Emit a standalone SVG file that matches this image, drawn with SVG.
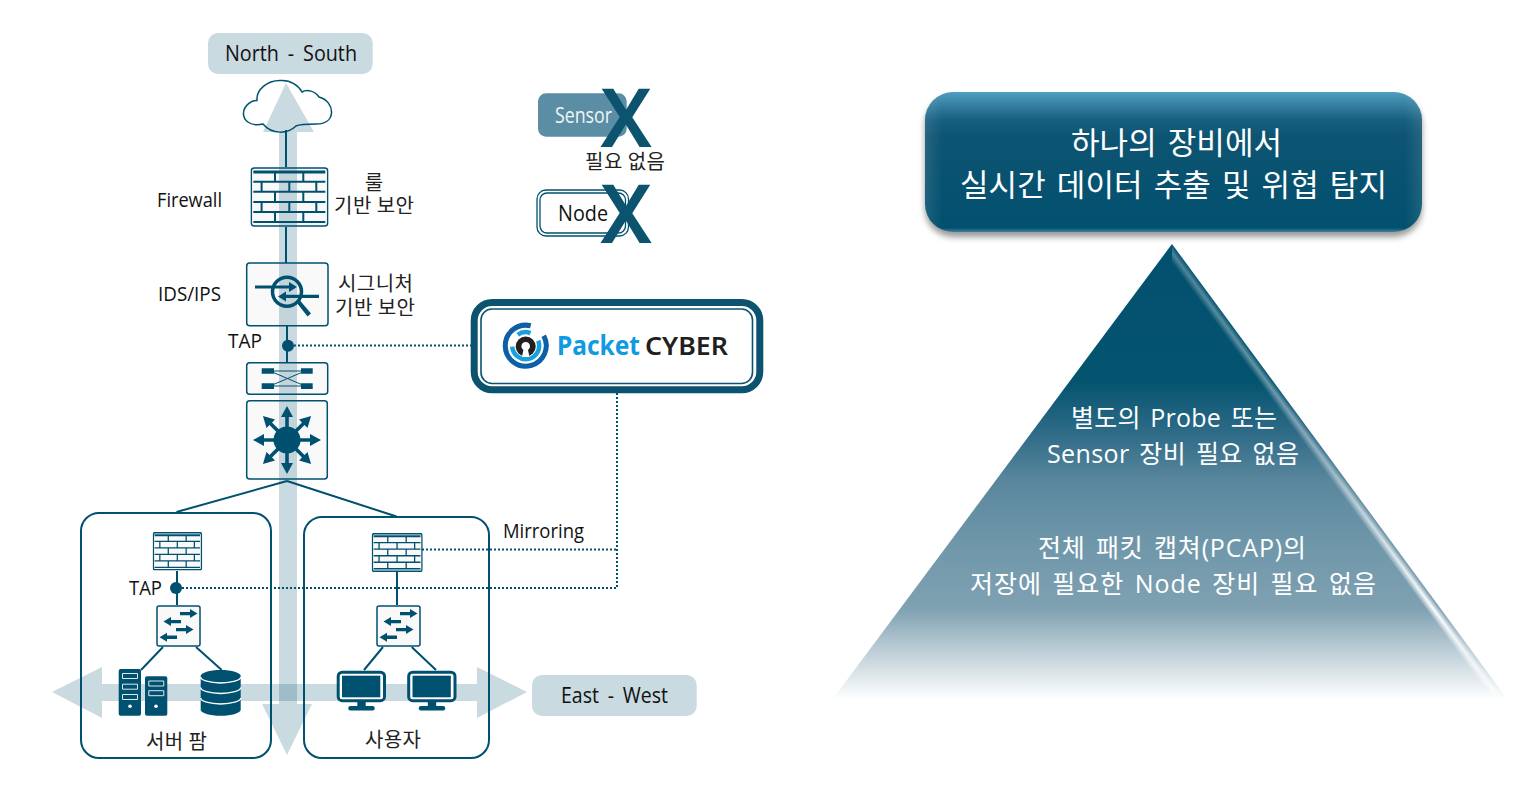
<svg xmlns="http://www.w3.org/2000/svg" xmlns:xlink="http://www.w3.org/1999/xlink" width="1525" height="807" viewBox="0 0 1525 807">
<style>
text{font-family:"Open Sans","Noto Sans CJK KR",sans-serif;fill:#111;font-size:19px}
.ko{font-family:"Noto Sans CJK KR",sans-serif;font-size:20px;fill:#222}
.w{fill:#fff;font-weight:400}
.big{font-size:31px;word-spacing:4px;fill:#fff}
.mid{font-size:25px;word-spacing:3px}
.lbl{font-size:21px;word-spacing:4px}
.flow{fill:#00506f;fill-opacity:.21}
.ln{stroke:#00506f;stroke-width:2;fill:none}
.dot{stroke:#00506f;stroke-width:2;stroke-dasharray:2 2;fill:none}
.box{fill:#000;fill-opacity:.025;stroke:#00506f;stroke-width:1.5}
.grp{fill:none;stroke:#00506f;stroke-width:2}
.d{fill:#00506f}
.cap{fill:#c9dae1}
.x{fill:#0c5370;font-family:"Noto Sans",sans-serif;font-weight:600;font-size:81px}
</style>
<defs>
<linearGradient id="gTop" x1="0" y1="0" x2="0" y2="1">
<stop offset="0" stop-color="#4d9fc4"/><stop offset=".08" stop-color="#3a83a4"/><stop offset=".2" stop-color="#165f7f"/><stop offset=".32" stop-color="#0d5472"/><stop offset=".97" stop-color="#02506f"/><stop offset="1" stop-color="#3f7f9c"/>
</linearGradient>
<linearGradient id="gSide" x1="0" y1="0" x2="1" y2="0">
<stop offset="0" stop-color="#fff" stop-opacity=".1"/><stop offset=".035" stop-color="#fff" stop-opacity="0"/><stop offset=".965" stop-color="#fff" stop-opacity="0"/><stop offset="1" stop-color="#fff" stop-opacity=".1"/>
</linearGradient>
<linearGradient id="gPyr" gradientUnits="userSpaceOnUse" x1="0" y1="244" x2="0" y2="700">
<stop offset="0" stop-color="#02506f"/><stop offset=".3" stop-color="#04536f"/><stop offset=".42" stop-color="#306c88"/><stop offset=".52" stop-color="#5a879d"/><stop offset=".66" stop-color="#6f97aa"/><stop offset=".8" stop-color="#7fa1b2"/><stop offset=".88" stop-color="#b5c8d2"/><stop offset="1" stop-color="#fff"/>
</linearGradient>
<linearGradient id="gBev" gradientUnits="userSpaceOnUse" x1="1172" y1="244" x2="1163" y2="250.600">
<stop offset="0" stop-color="#fff" stop-opacity=".05"/><stop offset=".45" stop-color="#fff" stop-opacity="1"/><stop offset="1" stop-color="#fff" stop-opacity="0"/>
</linearGradient>
<linearGradient id="gFade" gradientUnits="userSpaceOnUse" x1="0" y1="244" x2="0" y2="700">
<stop offset="0" stop-color="#484848"/><stop offset=".5" stop-color="#777"/><stop offset=".8" stop-color="#fff"/><stop offset=".97" stop-color="#aaa"/><stop offset="1" stop-color="#000"/>
</linearGradient>
<mask id="mFade" maskUnits="userSpaceOnUse" x="1150" y="240" width="370" height="465"><rect x="1150" y="240" width="370" height="465" fill="url(#gFade)"/></mask>
<filter id="sh" x="-5%" y="-10%" width="110%" height="125%"><feGaussianBlur stdDeviation="3"/></filter>
<symbol id="fw" viewBox="0 0 78.4 60" preserveAspectRatio="none">
<rect class="box" x="1" y="1" width="76.4" height="58" rx="3" vector-effect="non-scaling-stroke"/>
<path class="ln" d="M3 14.700H75M3 24.700H75M3 35H75M3 45H75M3 55H75M24.700 5V14.700M53 5V14.700M11.300 14.700V24.700M39 14.700V24.700M66 14.700V24.700M24.700 24.700V35M53 24.700V35M11.300 35V45M39 35V45M66 35V45M24.700 45V55M53 45V55"/>
<path class="ln" d="M3 5H75" style="stroke-width:3"/>
</symbol>
<path id="ar" class="d" d="M0-1.700H10V-4.500L17.500 0L10 4.500V1.700H0Z"/>
<path id="ar3" class="d" d="M0-1.800H23V-6L34 0L23 6V1.800H0Z"/>
<g id="sw">
<rect class="box" x=".7" y=".7" width="43" height="40" rx="2"/>
<use href="#ar" x="23.700" y="8.300"/>
<use href="#ar" transform="translate(24.700 16.300) rotate(180)"/>
<use href="#ar" x="19.700" y="24.300"/>
<use href="#ar" transform="translate(20.700 32) rotate(180)"/>
</g>
<g id="mon">
<rect x="1.500" y="1.500" width="46.300" height="28.500" rx="4" fill="#fff" stroke="#00506f" stroke-width="3"/>
<rect class="d" x="5.300" y="5" width="38.300" height="21.600"/>
<rect class="d" x="20.600" y="31" width="8.400" height="5.500"/>
<rect class="d" x="11.600" y="35.400" width="26.400" height="4.300" rx="2"/>
</g>
</defs>

<g id="flows">
<polygon class="flow" points="286,83 314,132 297,132 297,704 312,704 287,755 262,704 279,704 279,132 263,132"/>
<polygon class="flow" points="52,692 102,667 102,684 477,684 477,667 527,692 477,718 477,701 102,701 102,718"/>
</g>

<g id="connectors">
<path class="ln" d="M286 130V167M286 227V263M287 326V362M287 481L176.500 512M287 481L396.500 516.500M177 571V605M397 572V605M163 647L141 670M196 647L221.700 670M383 647L364 670M411.700 647L436 670"/>
<path class="dot" d="M294 345.500H471M182 588H617M422 549.500H617M617 393V588"/>
</g>

<g id="north-south"><rect class="cap" x="208" y="33" width="164.700" height="41" rx="10"/><text class="lbl" x="225" y="61" textLength="132" lengthAdjust="spacingAndGlyphs">North - South</text></g>
<g id="east-west"><rect class="cap" x="532" y="675" width="164.700" height="41" rx="10"/><text class="lbl" x="561" y="703" textLength="107" lengthAdjust="spacingAndGlyphs">East - West</text></g>

<g id="cloud"><path d="M263 124C250 127 243 120 243.500 113C244 105 252 100 257 100.500C256 90 267 80 281 80.500C291 80 299 86 302 92C307 89 315 91 319 97C327 99 332 106 331.500 113C331 120 325 124 316 124C308 124 300 124 296 126C288 134 272 135 263 124Z" fill="none" stroke="#00506f" stroke-width="1.500"/></g>

<g id="firewall"><use href="#fw" x="250.300" y="167" width="78.400" height="60"/>
<text x="157" y="207" textLength="65" lengthAdjust="spacingAndGlyphs" style="font-size:20px">Firewall</text>
<text class="ko" x="374" y="190" text-anchor="middle">룰</text>
<text class="ko" x="334" y="213" textLength="80">기반 보안</text></g>

<g id="ids-ips">
<rect class="box" x="246.700" y="263" width="81.300" height="62.700" rx="3"/>
<circle cx="287" cy="291.700" r="14.500" fill="none" stroke="#00506f" stroke-width="3.500"/>
<path class="d" d="M255 285.500H289V282L297 287L289 292V288.500H255ZM319 294.700H286V291.500L278 296.500L286 301.500V298H319ZM297 303L300 300.500L311 313.500L307.500 316.500Z"/>
<text x="158" y="301" textLength="63" lengthAdjust="spacingAndGlyphs" style="font-size:20px">IDS/IPS</text>
<text class="ko" x="338" y="291" textLength="75">시그니처</text>
<text class="ko" x="335" y="315" textLength="80">기반 보안</text></g>

<g id="tap-top"><circle class="d" cx="288" cy="345.700" r="6"/><text x="228" y="348" textLength="34" lengthAdjust="spacingAndGlyphs" style="font-size:20px">TAP</text></g>

<g id="patch">
<rect class="box" x="246.700" y="362.700" width="81" height="31.600" rx="3"/>
<path d="M262 371H312M262 386H312M270 371L305 386M305 371L270 386" stroke="#00506f" stroke-width="1" fill="none"/>
<path class="d" d="M261.700 368.300h12.300v5.400h-12.300zM301 368.300h11.700v5.400h-11.700zM261.700 383.300h12.300v5.700h-12.300zM301 383.300h11.700v5.700h-11.700z"/>
</g>

<g id="l3-switch">
<rect class="box" x="246.700" y="400.700" width="80.600" height="78.300" rx="3"/>
<circle class="d" cx="287" cy="440" r="13.500"/>
<use href="#ar3" transform="translate(287 440)"/><use href="#ar3" transform="translate(287 440) rotate(45)"/><use href="#ar3" transform="translate(287 440) rotate(90)"/><use href="#ar3" transform="translate(287 440) rotate(135)"/><use href="#ar3" transform="translate(287 440) rotate(180)"/><use href="#ar3" transform="translate(287 440) rotate(225)"/><use href="#ar3" transform="translate(287 440) rotate(270)"/><use href="#ar3" transform="translate(287 440) rotate(315)"/>
</g>

<g id="server-farm">
<rect class="grp" x="81" y="513" width="190" height="245" rx="18"/>
<use href="#fw" x="152.700" y="532" width="49.500" height="38.500"/>
<circle class="d" cx="176" cy="588" r="6"/>
<text x="129" y="595" textLength="33" lengthAdjust="spacingAndGlyphs" style="font-size:20px">TAP</text>
<use href="#sw" x="156.300" y="605.300"/>
<rect class="d" x="118.700" y="669" width="22.300" height="46.700" rx="2"/>
<rect class="d" x="145" y="676.300" width="22.300" height="39.400" rx="2"/>
<path d="M122.500 673.500h15v5h-15zM122.500 684.200h15v5h-15zM122.500 694.500h15v5h-15zM148.800 681h15v5h-15zM148.800 690.700h15v5h-15z" fill="none" stroke="#dfe8ec" stroke-width="1"/>
<circle cx="130" cy="706.300" r="1.800" fill="#fff"/><circle cx="156" cy="706.300" r="1.800" fill="#fff"/>
<path class="d" d="M200.700 676v33.700c0 3.300 9 6 20 6s20-2.700 20-6V676c0-3.300-9-6-20-6s-20 2.700-20 6Z"/>
<path d="M200.700 677c0 3.300 9 6 20 6s20-2.700 20-6M200.700 687.500c0 3.300 9 6 20 6s20-2.700 20-6M200.700 698c0 3.300 9 6 20 6s20-2.700 20-6" fill="none" stroke="#fff" stroke-width="1.300"/>
<text class="ko" x="146" y="749" textLength="61">서버 팜</text>
</g>

<g id="users">
<rect class="grp" x="304" y="517" width="185" height="241" rx="18"/>
<use href="#fw" x="371.700" y="533" width="51" height="39"/>
<use href="#sw" x="376.300" y="605.300"/>
<use href="#mon" x="336.700" y="670.700"/>
<use href="#mon" x="407.200" y="670.700"/>
<text class="ko" x="365" y="747" textLength="56">사용자</text>
</g>

<g id="mirroring"><text x="503" y="538" textLength="81" lengthAdjust="spacingAndGlyphs" style="font-size:20px">Mirroring</text></g>

<g id="sensor">
<rect x="538" y="93.300" width="88.700" height="43.400" rx="8" fill="#5b8ea4"/>
<text x="555" y="123" textLength="57" lengthAdjust="spacingAndGlyphs" style="fill:#f0f5f7;font-size:21px">Sensor</text>
<text class="x" x="626" y="146.700" text-anchor="middle">X</text>
<text class="ko" x="585" y="169" textLength="80">필요 없음</text>
</g>
<g id="node">
<rect x="537" y="190" width="91.500" height="46" rx="9" fill="#fff" stroke="#00506f" stroke-width="1.300"/>
<rect x="540" y="193" width="85.500" height="40" rx="7" fill="none" stroke="#00506f" stroke-width="1.300"/>
<text x="558" y="221" textLength="50" lengthAdjust="spacingAndGlyphs" style="font-size:22px">Node</text>
<text class="x" x="626" y="243" text-anchor="middle">X</text>
</g>

<g id="packet-cyber">
<rect x="474.200" y="302.500" width="285.600" height="87.300" rx="18" fill="#fff" stroke="#0c5370" stroke-width="7"/>
<rect x="481" y="309" width="271.500" height="74.500" rx="11" fill="none" stroke="#0c5370" stroke-width="1.600"/>
<path d="M530.700 325.800A20.500 20.500 0 1 0 543.700 335.800" fill="none" stroke="#0f5ea8" stroke-width="5"/>
<path d="M530.500 333.100A13.500 13.500 0 0 0 517.700 334.800M512.200 346.600A13.500 13.500 0 1 0 538.200 340.700" fill="none" stroke="#18a0de" stroke-width="4.500"/>
<circle cx="525.700" cy="346.500" r="10" fill="#231f20"/>
<path d="M525.700 342a4.300 4.300 0 0 1 2.300 7.900l1.500 7h-7.600l1.500-7a4.300 4.300 0 0 1 2.300-7.900Z" fill="#fff"/>
<text x="557" y="355" textLength="83" lengthAdjust="spacingAndGlyphs" style="fill:#0f9be0;font-size:27px;font-weight:700;font-family:'Noto Sans',sans-serif">Packet</text>
<text x="645" y="355" textLength="83" lengthAdjust="spacingAndGlyphs" style="fill:#231f20;font-size:26px;font-weight:600;font-family:'Noto Sans',sans-serif">CYBER</text>
</g>

<g id="headline">
<rect x="925" y="97" width="497" height="140" rx="28" fill="#000" fill-opacity=".4" filter="url(#sh)"/>
<rect x="925" y="92" width="497" height="140" rx="28" fill="url(#gTop)"/>
<rect x="925" y="92" width="497" height="140" rx="28" fill="url(#gSide)"/>
<text class="ko w big" x="1071" y="154" textLength="211">하나의 장비에서</text>
<text class="ko w big" x="960" y="196" textLength="427">실시간 데이터 추출 및 위협 탐지</text>
</g>

<g id="pyramid">
<polygon points="1172,244 1508,700 832,700" fill="url(#gPyr)"/>
<polygon points="1172,244 1508,700 1494,700 1172,265" fill="url(#gBev)" mask="url(#mFade)"/>
<text class="w mid" x="1071" y="427" textLength="206">별도의 Probe 또는</text>
<text class="w mid" x="1047" y="463" textLength="252">Sensor 장비 필요 없음</text>
<text class="w mid" x="1038" y="557" textLength="268">전체 패킷 캡쳐(PCAP)의</text>
<text class="w mid" x="970" y="593" textLength="406">저장에 필요한 Node 장비 필요 없음</text>
</g>
</svg>
